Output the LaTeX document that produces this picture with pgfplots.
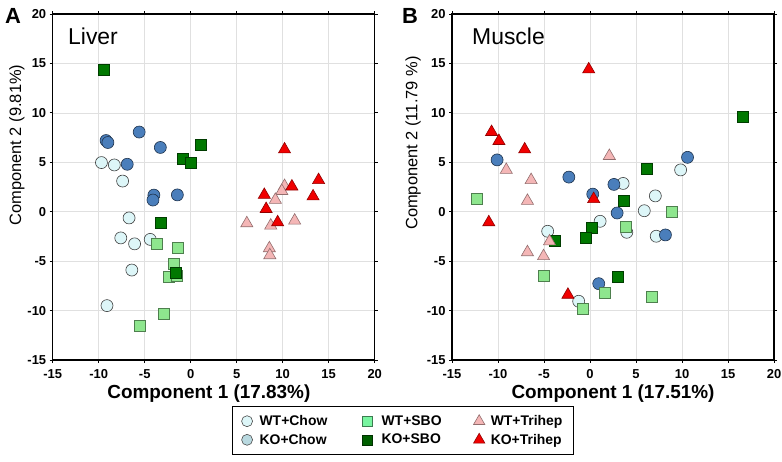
\documentclass[border=0pt]{standalone}
\usepackage{fontspec}
\setmainfont{Liberation Sans}
\usepackage{pgfplots}
\pgfplotsset{compat=1.18}
\definecolor{wtchow}{HTML}{DDF6F8}
\definecolor{kochow}{HTML}{4A7EBB}
\definecolor{wtsbo}{HTML}{8EE68E}
\definecolor{kosbo}{HTML}{007800}
\definecolor{wttri}{HTML}{F4B6B6}
\definecolor{kotri}{HTML}{F00000}
\definecolor{lkochow}{HTML}{B9D9E0}
\definecolor{lwtsbo}{HTML}{78F5A0}
\definecolor{lkosbo}{HTML}{006000}
\newcommand{\TL}[1]{\textbf{\fontsize{13}{13}\selectfont #1}}
\newcommand{\LG}[1]{\textbf{\fontsize{14}{15}\selectfont #1}}
\pgfplotsset{
  pca/.style={scale only axis, width=322bp, height=346bp,
    xmin=-15, xmax=20, ymin=-15, ymax=20,
    xtick={-15,-10,...,20}, ytick={-15,-10,...,20},
    xticklabels={\TL{-15},\TL{-10},\TL{-5},\TL{0},\TL{5},\TL{10},\TL{15},\TL{20}},
    yticklabels={\TL{-15},\TL{-10},\TL{-5},\TL{0},\TL{5},\TL{10},\TL{15},\TL{20}},
    xticklabel style={yshift=-3bp},
    grid=major, grid style={color=black!12, line width=0.5pt},
    axis line style={line width=1.3pt},
    tick align=outside, major tick length=3bp, tick style={black, line width=0.8pt},
    xlabel style={font=\bfseries\fontsize{19}{19}\selectfont, anchor=center},
    ylabel style={font=\fontsize{16.5}{16.5}\selectfont, anchor=center},
    clip=false},
  cA/.style={only marks, mark=*, mark size=6bp, mark options={fill=wtchow, draw=black!75, line width=0.6pt}},
  cB/.style={only marks, mark=*, mark size=6bp, mark options={fill=kochow, draw=black!60!kochow, line width=0.6pt}},
  sA/.style={only marks, mark=square*, mark size=5.5bp, mark options={fill=wtsbo, draw=black!45!wtsbo, line width=0.6pt}},
  sB/.style={only marks, mark=square*, mark size=5.5bp, mark options={fill=kosbo, draw=black!50!kosbo, line width=0.6pt}},
  tA/.style={only marks, mark=triangle*, mark size=7bp, mark options={fill=wttri, draw=black!40!wttri, line width=0.6pt}},
  tB/.style={only marks, mark=triangle*, mark size=7bp, mark options={fill=kotri, draw=black!40!kotri, line width=0.6pt}},
}
\begin{document}
\begin{tikzpicture}
\useasboundingbox (0,0) rectangle (782bp,462bp);
% ---------------- Liver ----------------
\begin{axis}[pca, at={(52.7bp,102bp)}, anchor=south west,
  xlabel={Component 1 (17.83\%)}, ylabel={Component 2 (9.81\%)},
  xlabel style={at={(axis description cs:0.485,-0.096)}},
  ylabel style={at={(axis description cs:-0.111,0.621)}},
  legend columns=3,
  legend style={at={(axis description cs:1.088,-0.2038)}, anchor=center,
    draw=black, line width=0.8pt,
    inner xsep=9bp, inner ysep=8bp, row sep=5bp, nodes={inner ysep=1bp}},
  legend cell align=left]
\addlegendimage{only marks, mark=*, mark size=5.5bp, mark options={fill=wtchow, draw=black!70, line width=0.6pt}}
\addlegendentry{\hspace{5bp}\makebox[101bp][l]{\LG{WT+Chow}}}
\addlegendimage{only marks, mark=square*, mark size=5bp, mark options={fill=lwtsbo, draw=black!50!lwtsbo, line width=0.6pt}}
\addlegendentry{\hspace{7bp}\makebox[90bp][l]{\LG{WT+SBO}}}
\addlegendimage{only marks, mark=triangle*, mark size=6.5bp, mark options={fill=wttri, draw=black!40!wttri, line width=0.6pt}}
\addlegendentry{\hspace{4bp}\LG{WT+Trihep}}
\addlegendimage{only marks, mark=*, mark size=5.5bp, mark options={fill=lkochow, draw=black!70, line width=0.6pt}}
\addlegendentry{\hspace{5bp}\makebox[101bp][l]{\LG{KO+Chow}}}
\addlegendimage{only marks, mark=square*, mark size=5bp, mark options={fill=lkosbo, draw=black!50!lkosbo, line width=0.6pt}}
\addlegendentry{\hspace{7bp}\makebox[90bp][l]{\LG{KO+SBO}}}
\addlegendimage{only marks, mark=triangle*, mark size=6.5bp, mark options={fill=kotri, draw=black!40!kotri, line width=0.6pt}}
\addlegendentry{\hspace{4bp}\LG{KO+Trihep}}
\addplot[cA, forget plot] coordinates {(-9.7,4.97) (-8.3,4.73) (-7.4,3.1) (-6.7,-0.63) (-7.6,-2.65) (-4.4,-2.8) (-6.1,-3.25) (-6.4,-5.9) (-9.1,-9.5)};
\addplot[cB, forget plot] coordinates {(-9.2,7.2) (-9.0,7.0) (-5.6,8.06) (-3.3,6.5) (-6.9,4.8) (-4.0,1.68) (-4.1,1.18) (-1.45,1.7)};
\addplot[sA, forget plot] coordinates {(-3.7,-3.25) (-1.35,-3.7) (-1.85,-5.27) (-2.4,-6.6) (-1.5,-6.5) (-2.9,-10.3) (-5.5,-11.5)};
\addplot[sB, forget plot] coordinates {(-9.4,14.37) (1.05,6.75) (-0.87,5.37) (-0.04,4.9) (-3.3,-1.14) (-1.6,-6.2)};
\addplot[tA, forget plot] coordinates {(10.2,2.6) (9.9,2.1) (9.2,1.2) (6.1,-1.17) (8.7,-1.4) (11.3,-0.9) (8.55,-3.7) (8.6,-4.4)};
\addplot[tB, forget plot] coordinates {(10.2,6.3) (11.0,2.55) (13.9,3.2) (8.0,1.7) (13.3,1.55) (8.2,0.27) (9.45,-1.07)};
\end{axis}
% ---------------- Muscle ----------------
\begin{axis}[pca, at={(452bp,102bp)}, anchor=south west,
  xlabel={Component 1 (17.51\%)}, ylabel={Component 2 (11.79 \%)},
  xlabel style={at={(axis description cs:0.5,-0.096)}},
  ylabel style={at={(axis description cs:-0.121,0.627)}}]
\addplot[cA] coordinates {(9.85,4.23) (3.6,2.86) (7.1,1.6) (5.9,0.1) (1.1,-0.97) (4.0,-2.08) (-4.6,-1.98) (7.2,-2.48) (-1.23,-9.06)};
\addplot[cB] coordinates {(-10.1,5.24) (10.6,5.5) (-2.3,3.5) (2.6,2.76) (0.3,1.78) (2.95,-0.13) (8.2,-2.35) (0.95,-7.28)};
\addplot[sA] coordinates {(-12.3,1.28) (8.9,0.04) (3.9,-1.57) (-5.0,-6.44) (1.56,-8.22) (6.7,-8.62) (-0.76,-9.8)};
\addplot[sB] coordinates {(16.65,9.6) (6.2,4.3) (3.7,1.1) (0.2,-1.64) (-3.8,-2.9) (-0.5,-2.68) (3.0,-6.6)};
\addplot[tA] coordinates {(2.1,5.64) (-9.1,4.23) (-6.4,3.2) (-6.8,1.1) (-4.4,-3.0) (-6.8,-4.1) (-5.05,-4.5)};
\addplot[tB] coordinates {(-0.14,14.4) (-10.7,8.06) (-9.9,7.15) (-7.1,6.3) (0.4,1.28) (-11.0,-1.07) (-2.4,-8.4)};
\end{axis}
\node[font=\bfseries\fontsize{22}{22}\selectfont] at (13bp,446bp) {A};
\node[font=\bfseries\fontsize{22}{22}\selectfont] at (410bp,446bp) {B};
\node[font=\fontsize{23}{23}\selectfont, anchor=base west, inner sep=0pt] at (68bp,417bp) {Liver};
\node[font=\fontsize{23}{23}\selectfont, anchor=base west, inner sep=0pt] at (472bp,417bp) {Muscle};
\end{tikzpicture}
\end{document}
